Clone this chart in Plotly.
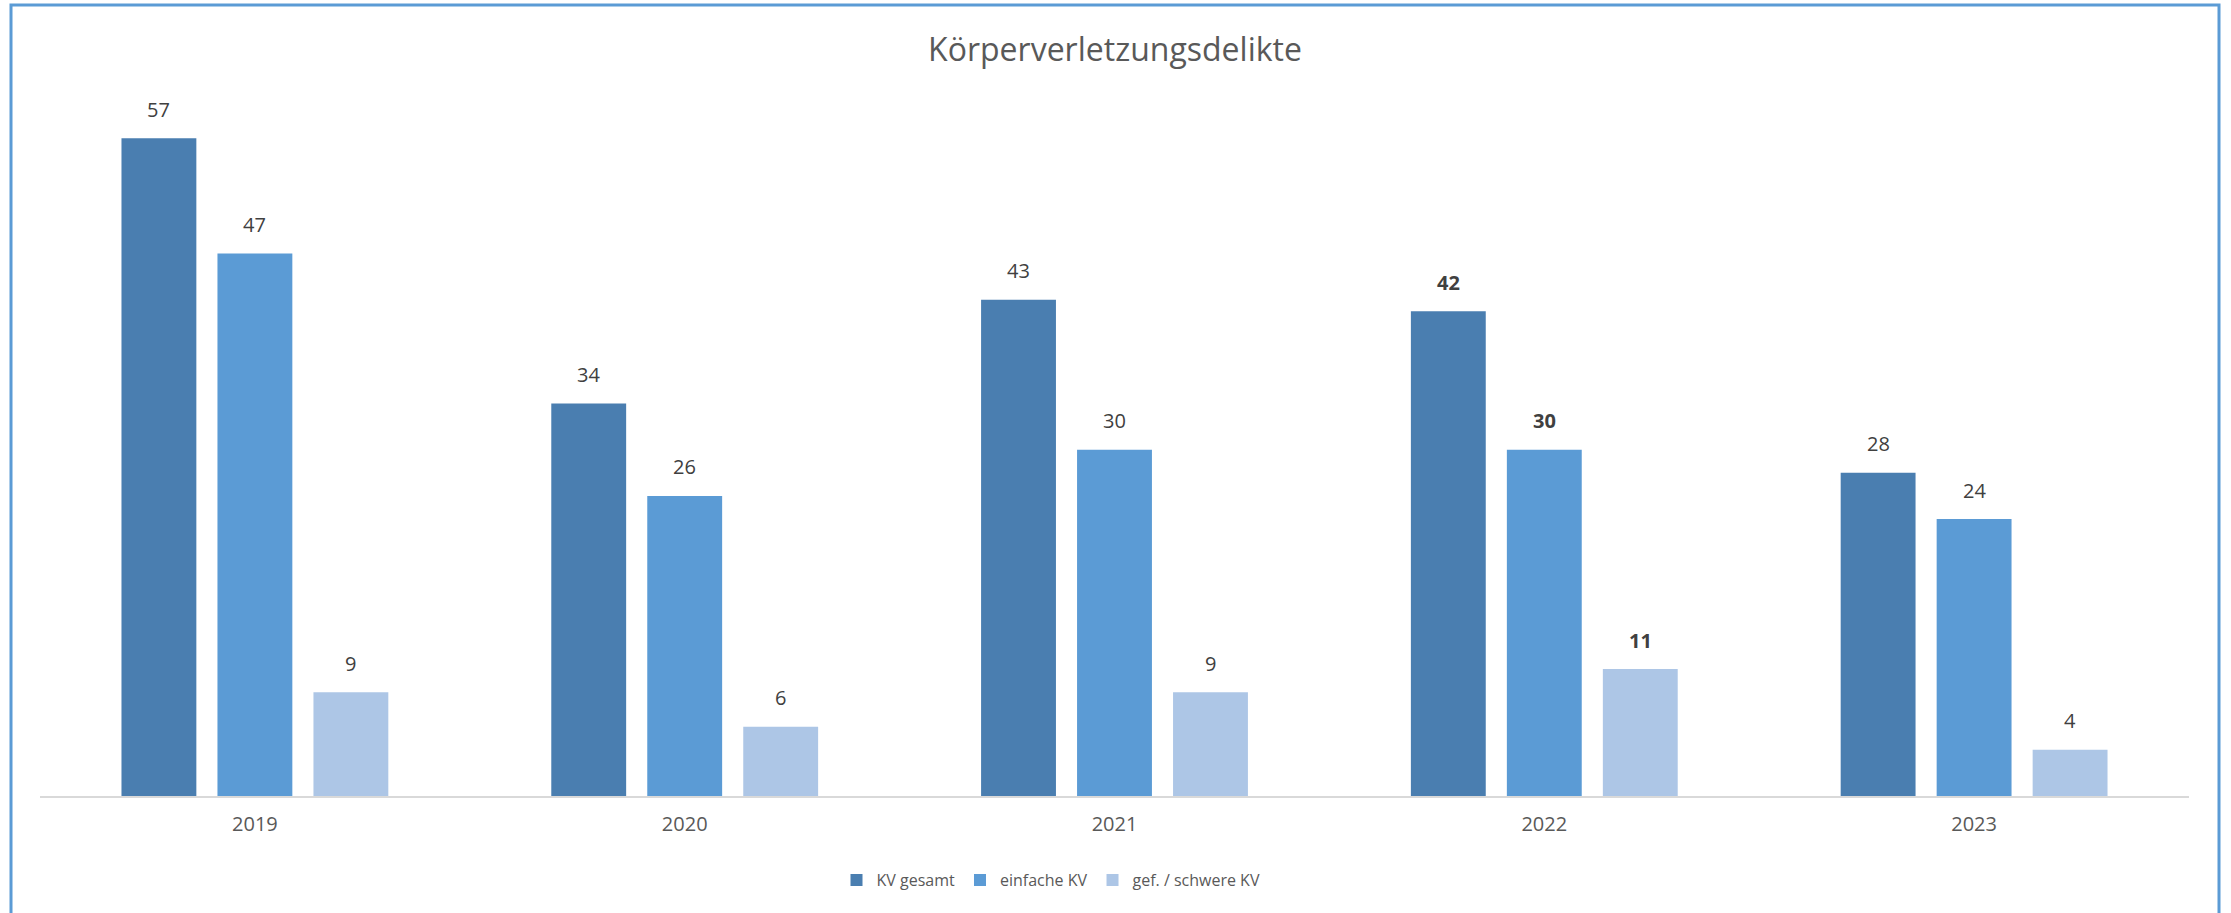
import plotly.graph_objects as go

years = ["2019", "2020", "2021", "2022", "2023"]
series_names = ["KV gesamt", "einfache KV", "gef. / schwere KV"]
kv_gesamt = [57, 34, 43, 42, 28]
einfache_kv = [47, 26, 30, 30, 24]
schwere_kv = [9, 6, 9, 11, 4]
bold_year = "2022"

colors = ["#4A7EB0", "#5B9BD5", "#ADC6E6"]
values = [kv_gesamt, einfache_kv, schwere_kv]

W, H = 2231, 913
ML, MR, MT, MB = 40, 42, 92, 117
BARGAP, GROUPGAP = 0.33, 0.22
plot_w = W - ML - MR
plot_h = H - MT - MB
base_y = H - MB
slot = plot_w / len(years) * (1 - BARGAP) / len(series_names)

fig = go.Figure()
for name, vals, col in zip(series_names, values, colors):
    fig.add_trace(go.Bar(x=years, y=vals, name=name, marker=dict(color=col, line=dict(width=0))))

annotations = []
for i, vals in enumerate(values):
    for j, (yr, v) in enumerate(zip(years, vals)):
        txt = f"<b>{v}</b>" if yr == bold_year else str(v)
        annotations.append(dict(
            x=j, y=v, text=txt, showarrow=False, xref="x", yref="y",
            xshift=(i - 1) * slot, yshift=29, yanchor="middle",
            font=dict(family="Open Sans", size=20, color="#404040"),
        ))

fig.update_layout(
    width=W, height=H,
    margin=dict(l=ML, r=MR, t=MT, b=MB),
    paper_bgcolor="white", plot_bgcolor="white",
    barmode="group", bargap=BARGAP, bargroupgap=GROUPGAP,
    title=dict(text="Körperverletzungsdelikte", x=1115 / W, xanchor="center",
               y=1 - 50 / H, yanchor="middle",
               font=dict(family="Open Sans", size=32, color="#595959")),
    xaxis=dict(type="category", range=[-0.5, len(years) - 0.5],
               showgrid=False, showline=True, linecolor="#D9D9D9", linewidth=2,
               ticks="", ticklabelstandoff=9,
               tickfont=dict(family="Open Sans", size=20, color="#595959")),
    yaxis=dict(range=[0, 61], visible=False, showgrid=False, zeroline=False),
    legend=dict(orientation="h", x=(1051 - ML) / plot_w, xanchor="center",
                y=(base_y - 880) / plot_h, yanchor="middle",
                font=dict(family="Open Sans", size=16, color="#595959"),
                itemwidth=30, traceorder="normal"),
    annotations=annotations,
    shapes=[dict(type="rect", xref="paper", yref="paper",
                 x0=(11 - ML) / plot_w, x1=(2219 - ML) / plot_w,
                 y0=(base_y - 930) / plot_h, y1=(base_y - 5) / plot_h,
                 line=dict(color="#5B9BD5", width=3), layer="below")],
    showlegend=True,
)

fig.write_html("out.html", config={"displayModeBar": False},
               post_script="document.body.style.margin='0';document.body.style.overflow='hidden';")
